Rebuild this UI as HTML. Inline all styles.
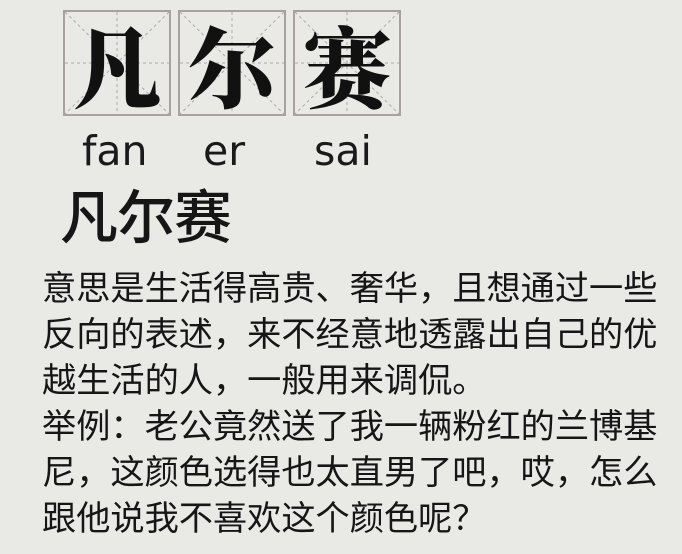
<!DOCTYPE html>
<html><head><meta charset="utf-8"><style>
html,body{margin:0;padding:0}
body{width:682px;height:554px;overflow:hidden;background:#e9e9e6;position:relative;font-family:"Liberation Sans","Noto Sans CJK SC",sans-serif;color:#161616}
.box{position:absolute;top:10px;width:108px;height:106px;border:2px solid #a9a0a0;box-sizing:border-box}
.box svg{position:absolute;left:0;top:0}
.box span{position:absolute;left:0;right:0;top:2px;text-align:center;font:900 88px/100px "Noto Serif CJK SC","Noto Sans CJK SC",serif;color:#111}
.py{position:absolute;top:127px;font-size:41px;color:#1a1a1a;font-family:"DejaVu Sans","Liberation Sans",sans-serif;font-weight:400}
.h{position:absolute;left:60px;top:180px;font:500 58px/66px "Noto Sans CJK SC",sans-serif;letter-spacing:-1px}
.body{position:absolute;left:42px;top:266px;font-size:34.2px;line-height:46px;white-space:nowrap}
</style></head><body>
<div class="box" style="left:63px"><svg width="104" height="102"><g stroke="#aaa" stroke-dasharray="3,3"><line x1="0" y1="0" x2="104" y2="102"/><line x1="104" y1="0" x2="0" y2="102"/><line x1="52" y1="0" x2="52" y2="102"/><line x1="0" y1="51" x2="104" y2="51"/></g></svg><span>凡</span></div>
<div class="box" style="left:178px"><svg width="104" height="102"><g stroke="#aaa" stroke-dasharray="3,3"><line x1="0" y1="0" x2="104" y2="102"/><line x1="104" y1="0" x2="0" y2="102"/><line x1="52" y1="0" x2="52" y2="102"/><line x1="0" y1="51" x2="104" y2="51"/></g></svg><span>尔</span></div>
<div class="box" style="left:293px"><svg width="104" height="102"><g stroke="#aaa" stroke-dasharray="3,3"><line x1="0" y1="0" x2="104" y2="102"/><line x1="104" y1="0" x2="0" y2="102"/><line x1="52" y1="0" x2="52" y2="102"/><line x1="0" y1="51" x2="104" y2="51"/></g></svg><span>赛</span></div>
<div class="py" style="left:82px">fan</div>
<div class="py" style="left:203px">er</div>
<div class="py" style="left:314px">sai</div>
<div class="h">凡尔赛</div>
<div class="body">意思是生活得高贵、奢华，且想通过一些<br>反向的表述，来不经意地透露出自己的优<br>越生活的人，一般用来调侃。<br>举例：老公竟然送了我一辆粉红的兰博基<br>尼，这颜色选得也太直男了吧，哎，怎么<br>跟他说我不喜欢这个颜色呢？</div>
</body></html>
